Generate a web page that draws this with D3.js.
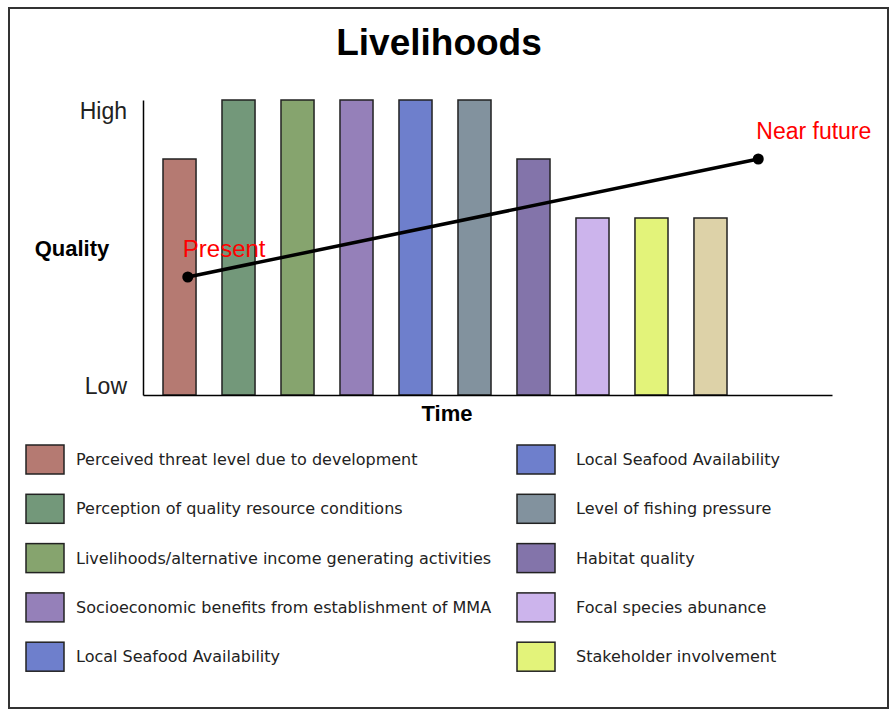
<!DOCTYPE html>
<html>
<head>
<meta charset="utf-8">
<script src="https://cdn.jsdelivr.net/npm/d3@7"></script>
<style>
  body { margin: 0; background: #fff; }
  svg { display: block; }
</style>
</head>
<body>
<div id="chart"></div>
<script>
// bar data (quality level 0 = Low, 5 = High)
const barNames = ["Threat", "Resource", "Livelihoods", "Socioeconomic", "Seafood", "Fishing", "Habitat", "Focal", "Stakeholder", "Other"];
const barValues = [4, 5, 5, 5, 5, 5, 4, 3, 3, 3];
const barColors = ["#b57a72", "#73987a", "#86a46e", "#9580b9", "#6e7fcc", "#82929e", "#8374aa", "#ccb4ec", "#e3f37a", "#ddd2a8"];

// trend line: position along the time axis (0..1) and quality
const timeLabels = ["Present", "Near future"];
const timePos = [0.065, 0.893];
const timeQuality = [2, 4];

const yTicks = [0, 5];
const yTickLabels = ["Low", "High"];

const legendLabels = [
    "Perceived threat level due to development",
    "Perception of quality resource conditions",
    "Livelihoods/alternative income generating activities",
    "Socioeconomic benefits from establishment of MMA",
    "Local Seafood Availability",
    "Local Seafood Availability",
    "Level of fishing pressure",
    "Habitat quality",
    "Focal species abunance",
    "Stakeholder involvement"
];
const legendColors = ["#b57a72", "#73987a", "#86a46e", "#9580b9", "#6e7fcc", "#6e7fcc", "#82929e", "#8374aa", "#ccb4ec", "#e3f37a"];

const width = 891;
const height = 710;

const svg = d3.select("#chart")
    .append("svg")
    .attr("width", width)
    .attr("height", height);

// outer frame
svg.append("rect")
    .attr("x", 9).attr("y", 8)
    .attr("width", 879).attr("height", 700)
    .attr("fill", "#fff")
    .attr("stroke", "#333")
    .attr("stroke-width", 2);

svg.append("text")
    .attr("x", 439).attr("y", 55)
    .attr("text-anchor", "middle")
    .attr("font-family", "Liberation Sans, Arial, sans-serif")
    .attr("font-weight", "bold")
    .attr("font-size", 37)
    .text("Livelihoods");

// scales
const x = d3.scaleBand()
    .domain(barNames)
    .range([163, 727])
    .paddingInner(0.44)
    .paddingOuter(0);

const timeX = d3.scaleLinear().domain([0, 1]).range([143, 832]);
const y = d3.scaleLinear().domain([0, 5]).range([395, 100]);

// bars
svg.append("g")
    .selectAll("rect")
    .data(barValues)
    .enter()
    .append("rect")
    .attr("x", (d, i) => x(barNames[i]))
    .attr("y", d => y(d))
    .attr("width", x.bandwidth())
    .attr("height", d => y(0) - y(d))
    .attr("fill", (d, i) => barColors[i])
    .attr("stroke", "#222")
    .attr("stroke-width", 1.5);

// axes
const yAxis = svg.append("g")
    .attr("transform", `translate(${timeX(0)},0)`)
    .call(d3.axisLeft(y).tickValues(yTicks).tickSize(0).tickPadding(16)
        .tickFormat((d, i) => yTickLabels[i]));
yAxis.select(".domain").attr("stroke", "#000").attr("stroke-width", 1.5);
yAxis.selectAll("text")
    .attr("font-family", "Liberation Sans, Arial, sans-serif")
    .attr("font-size", 23)
    .attr("fill", "#222")
    .attr("dy", d => d === 5 ? "0.82em" : "-0.05em");

const xAxis = svg.append("g")
    .attr("transform", `translate(0,${y(0)})`)
    .call(d3.axisBottom(timeX).ticks(0).tickSizeOuter(0));
xAxis.select(".domain").attr("stroke", "#000").attr("stroke-width", 1.5);

svg.append("text")
    .attr("x", 72).attr("y", 256)
    .attr("text-anchor", "middle")
    .attr("font-family", "Liberation Sans, Arial, sans-serif")
    .attr("font-weight", "bold")
    .attr("font-size", 22)
    .text("Quality");

svg.append("text")
    .attr("x", 447).attr("y", 421)
    .attr("text-anchor", "middle")
    .attr("font-family", "Liberation Sans, Arial, sans-serif")
    .attr("font-weight", "bold")
    .attr("font-size", 22)
    .text("Time");

// trend line
const pts = timePos.map((t, i) => [timeX(t), y(timeQuality[i])]);
svg.append("path")
    .attr("d", d3.line()(pts))
    .attr("fill", "none")
    .attr("stroke", "#000")
    .attr("stroke-width", 3.5);

svg.selectAll(".dot")
    .data(pts)
    .enter()
    .append("circle")
    .attr("cx", d => d[0])
    .attr("cy", d => d[1])
    .attr("r", 5.5)
    .attr("fill", "#000");

svg.append("text")
    .attr("x", pts[0][0] - 5).attr("y", pts[0][1] - 20)
    .attr("font-family", "Liberation Sans, Arial, sans-serif")
    .attr("font-size", 24)
    .attr("fill", "#ff0000")
    .text(timeLabels[0]);

svg.append("text")
    .attr("x", pts[1][0] - 2).attr("y", pts[1][1] - 20)
    .attr("font-family", "Liberation Sans, Arial, sans-serif")
    .attr("font-size", 23)
    .attr("fill", "#ff0000")
    .text(timeLabels[1]);

// legend, two columns of five
const legend = svg.append("g")
    .selectAll("g")
    .data(legendLabels)
    .enter()
    .append("g")
    .attr("transform", (d, i) => `translate(${i < 5 ? 26 : 517},${445 + (i % 5) * 49.3})`);

legend.append("rect")
    .attr("width", 38)
    .attr("height", 29)
    .attr("fill", (d, i) => legendColors[i])
    .attr("stroke", "#222")
    .attr("stroke-width", 1.5);

legend.append("text")
    .attr("x", (d, i) => i < 5 ? 50 : 59)
    .attr("y", 20)
    .attr("font-family", "DejaVu Sans, Verdana, sans-serif")
    .attr("font-size", 16)
    .attr("fill", "#222")
    .text(d => d);
</script>
</body>
</html>
